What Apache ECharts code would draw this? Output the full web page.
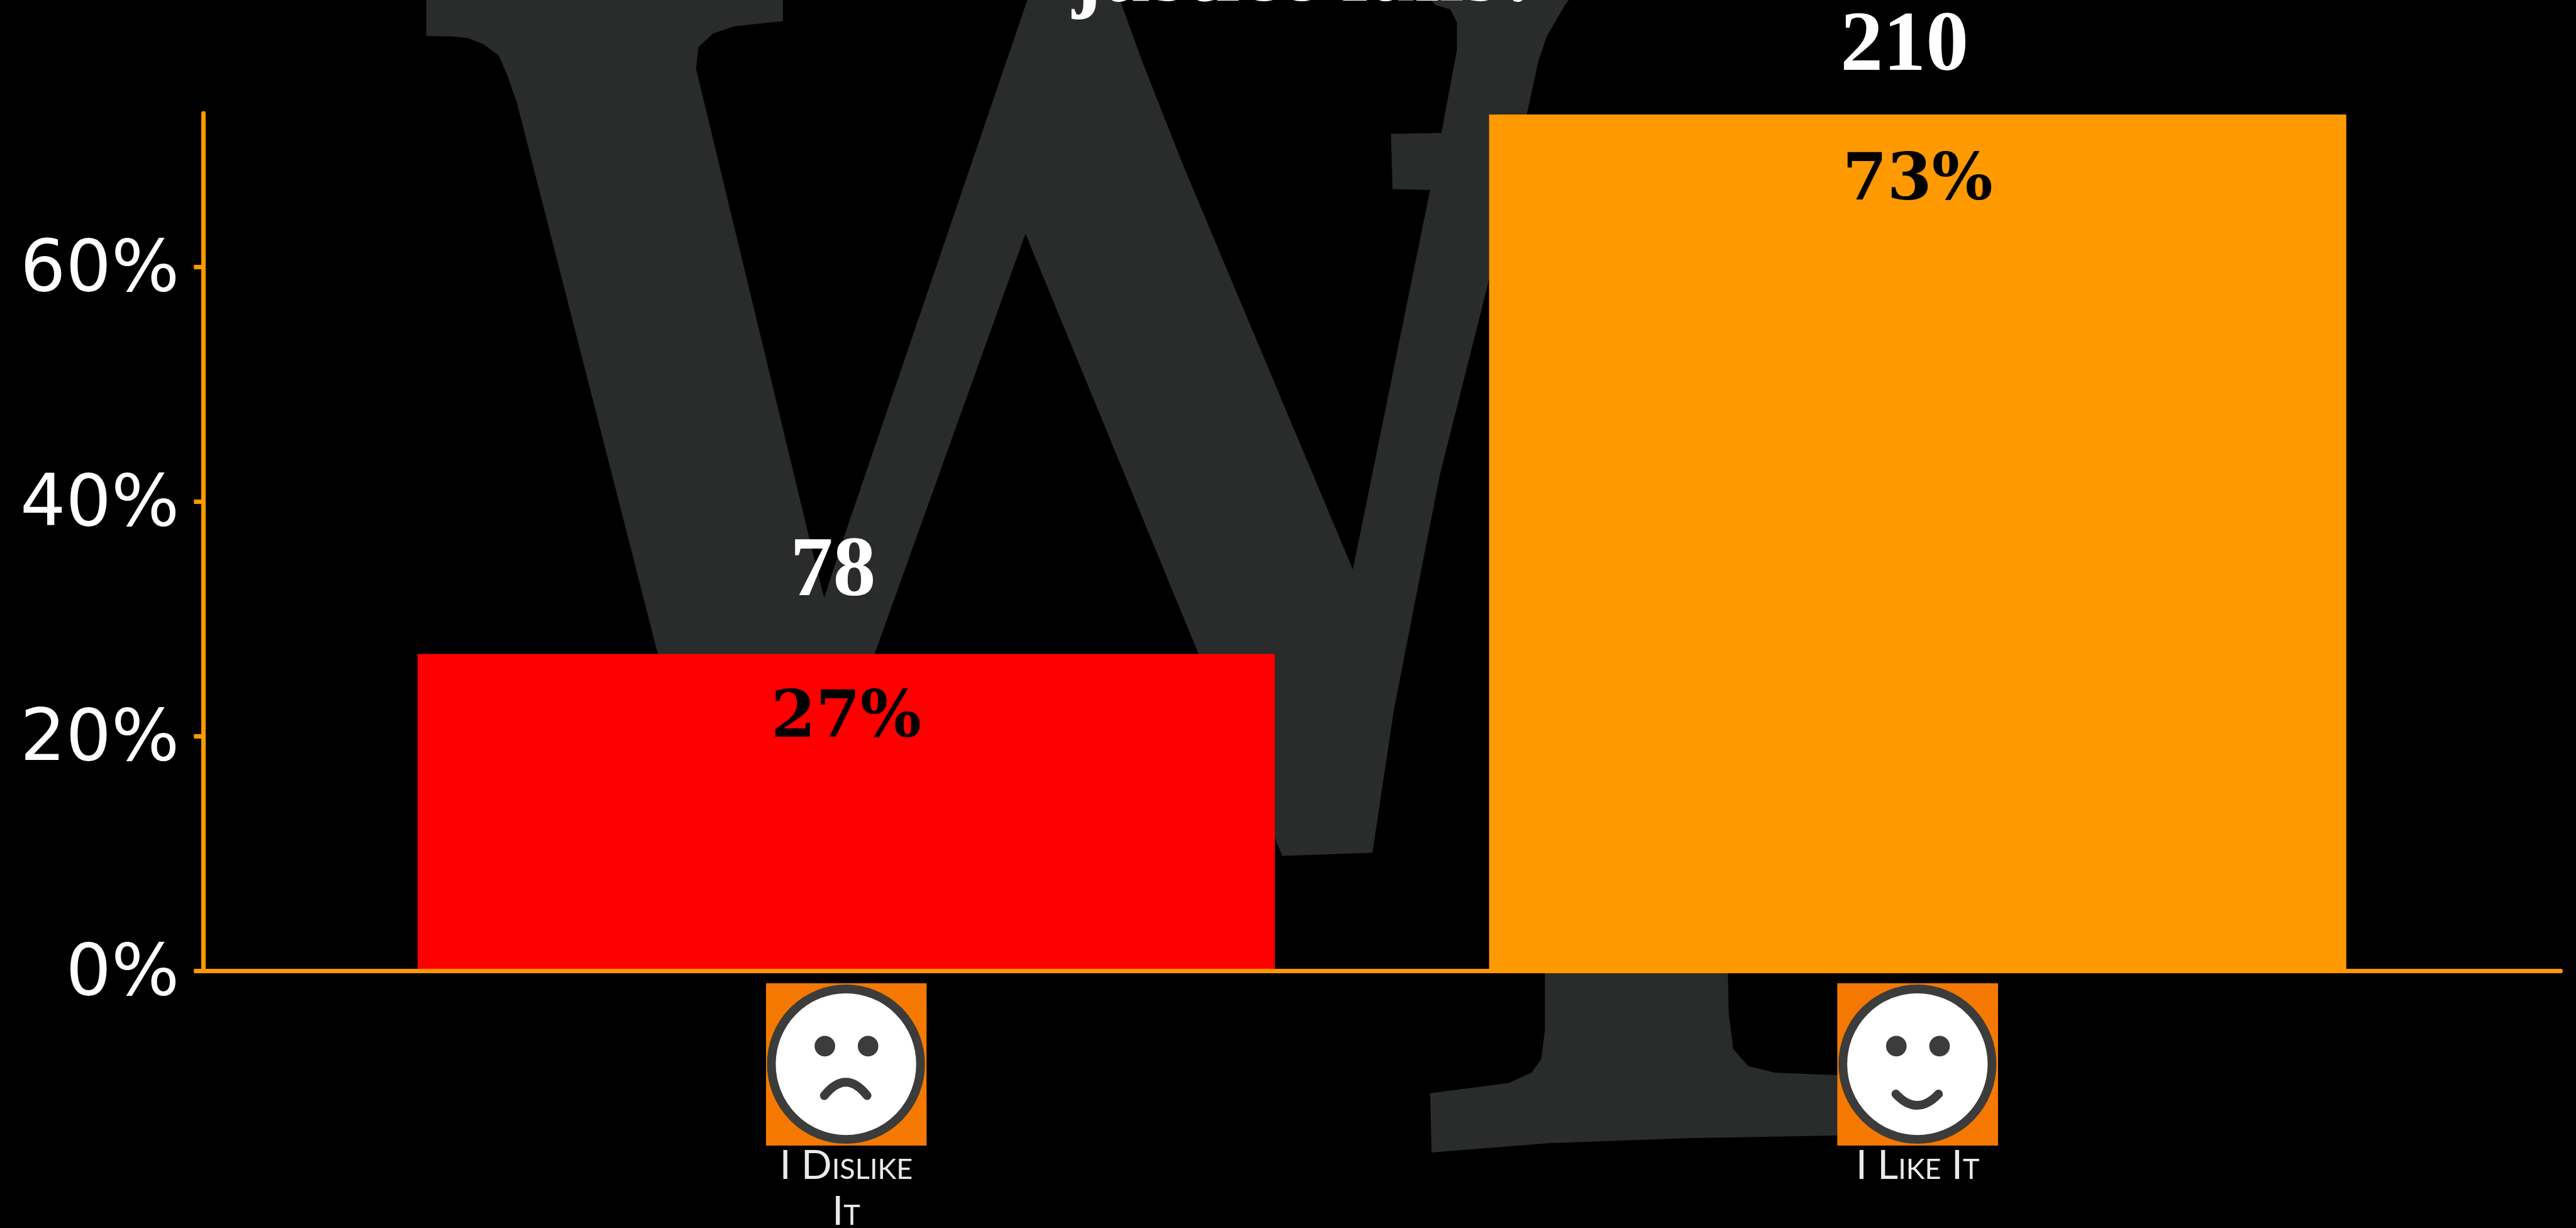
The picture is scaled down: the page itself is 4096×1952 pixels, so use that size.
<!DOCTYPE html>
<html>
<head>
<meta charset="utf-8">
<title>Justice poll</title>
<style>html,body{margin:0;padding:0;background:#000}#chart{width:4096px;height:1952px}</style>
<script src="https://cdn.jsdelivr.net/npm/echarts@6/dist/echarts.min.js"></script>
</head>
<body>
<div id="chart"></div>
<script>
// Poll results
const categories = ['I Dislike\nIt', 'I Like It'];
const percentages = [27, 73];
const counts = [78, 210];
const yTicks = [0, 20, 40, 60];
const titleText = 'justice fails?';
const barColors = ['#ff0000', '#ff9900'];

// Layout is worked out on a 5004-wide artboard and scaled to the page
const S = 4096 / 5004;
const scalePts = pts => pts.map(p => [p[0] * S, p[1] * S]);

// Outlines of the large backdrop lettering
const letterW = [[828,-10],[828,70],[880,71],[909,74],[940,86],[969,108],[985,145],[1004,199],[1277,1267],[1378,1660],
  [1559,1660],[1700,1267],[1992,454],[2327,1267],[2476,1627],[2491,1662],[2666,1656],[2708,1377],[2797,922],[2890,553],
  [2967,217],[2988,120],[3005,70],[3040,10],[3055,-10],[2770,-10],[2789,10],[2817,18],[2830,43],[2830,98],[2800,258],
  [2702,260],[2705,367],[2778,369],[2628,1106],[2300,325],[2219,120],[2172,-10],[1999,-10],[1636,1053],[1601,1161],
  [1576,1061],[1352,133],[1357,91],[1385,65],[1427,51],[1521,41],[1521,-10]];
const letterStem = [[3001,1800],[3001,2000],[2994,2057],[2975,2083],[2931,2103],[2778,2123],[2781,2238],[3007,2220],
  [3288,2210],[3567,2205],[3700,2200],[3700,2089],[3567,2088],[3447,2083],[3396,2070],[3367,2037],[3358,1967],[3355,1800]];

// Face icons shown above the category names
function faceIcon(mouth) {
  const svg = '<svg xmlns="http://www.w3.org/2000/svg" width="626" height="630" viewBox="0 0 313 315">' +
    '<rect width="313" height="315" fill="#f57900"/>' +
    '<ellipse cx="156" cy="157" rx="145" ry="146" fill="#fff" stroke="#3c3c3c" stroke-width="17"/>' +
    '<ellipse cx="115" cy="122" rx="20" ry="20" fill="#3c3c3c"/><ellipse cx="199" cy="122" rx="20" ry="20" fill="#3c3c3c"/>' +
    '<path d="' + mouth + '" fill="none" stroke="#3c3c3c" stroke-width="17" stroke-linecap="round"/></svg>';
  return 'data:image/svg+xml;charset=utf-8,' + encodeURIComponent(svg);
}
const sadFace = faceIcon('M114 218Q156 166 197 218');
const happyFace = faceIcon('M114 215Q155 259 197 215');

const countFont = 'Liberation Serif';
const nameStyle = {
  color: '#eaeaea', fontFamily: 'Lato', fontWeight: 400, fontStyle: 'small-caps', fontSize: 64, align: 'center'
};

const chart = echarts.init(document.getElementById('chart'), null, { renderer: 'canvas', width: 4096, height: 1952 });
chart.setOption({
  animation: false,
  backgroundColor: '#000000',
  title: {
    text: titleText, left: 2083 * S, top: -106, padding: 0,
    textStyle: { color: '#ffffff', fontFamily: countFont, fontWeight: 'bold', fontSize: 141 }
  },
  graphic: [
    { type: 'polygon', z: -10, silent: true, shape: { points: scalePts(letterW) }, style: { fill: '#2a2b2b' } },
    { type: 'polygon', z: -10, silent: true, shape: { points: scalePts(letterStem) }, style: { fill: '#2a2b2b' } }
  ],
  grid: {
    left: 395 * S, right: 4096 - 4974 * S, top: 220 * S, bottom: 1952 - 1885 * S,
    containLabel: false, outerBoundsMode: 'none'
  },
  xAxis: {
    type: 'value', min: -0.6, max: 1.6, z: 3,
    splitLine: { show: false },
    axisLine: { show: true, onZero: false, lineStyle: { color: '#ff9900', width: 7 } },
    axisTick: { show: false },
    axisLabel: {
      show: true, margin: 20, hideOverlap: false, customValues: [0, 1],
      formatter: v => {
        const lines = categories[v].split('\n');
        return '{' + (v === 0 ? 'sad' : 'happy') + '|}\n{first|' + lines[0] + '}' +
          (lines[1] ? '\n{second|' + lines[1] + '}' : '');
      },
      rich: {
        sad: { width: 256, height: 258, align: 'center', backgroundColor: { image: sadFace } },
        happy: { width: 256, height: 258, align: 'center', backgroundColor: { image: happyFace } },
        first: Object.assign({ lineHeight: 64 }, nameStyle),
        second: Object.assign({ lineHeight: 82 }, nameStyle)
      }
    }
  },
  yAxis: {
    type: 'value', min: 0, max: 73.1,
    splitLine: { show: false },
    axisLine: { show: true, onZero: false, lineStyle: { color: '#ff9900', width: 7 } },
    axisTick: { show: true, length: 15, customValues: yTicks, lineStyle: { color: '#ff9900', width: 7 } },
    axisLabel: {
      show: true, margin: 38, customValues: yTicks,
      formatter: v => v + '%',
      color: '#ffffff', fontFamily: 'DejaVu Sans', fontSize: 114,
      verticalAlign: 'top', lineHeight: 16
    }
  },
  series: [
    {
      // Percentage bars
      type: 'bar', barWidth: 1363, z: 2,
      data: percentages.map((v, i) => ({
        value: [i, v],
        itemStyle: { color: barColors[i] },
        label: { distance: i === 0 ? 54 : 58 }
      })),
      label: {
        show: true, position: 'insideTop', formatter: p => p.value[1] + '%',
        color: '#000000', fontFamily: 'DejaVu Serif', fontWeight: 'bold', fontSize: 102
      }
    },
    {
      // Respondent counts floating above each bar
      type: 'scatter', symbolSize: 1, z: 4, silent: true,
      itemStyle: { color: 'transparent', opacity: 1 },
      data: percentages.map((v, i) => ({
        value: [i, v],
        label: { offset: [-21, i === 0 ? -60 : -38] }
      })),
      label: {
        show: true, position: 'top', distance: 0,
        formatter: p => String(counts[p.dataIndex]),
        color: '#ffffff', opacity: 1, fontFamily: countFont, fontWeight: 'bold', fontSize: 136
      }
    }
  ]
});
</script>
</body>
</html>
